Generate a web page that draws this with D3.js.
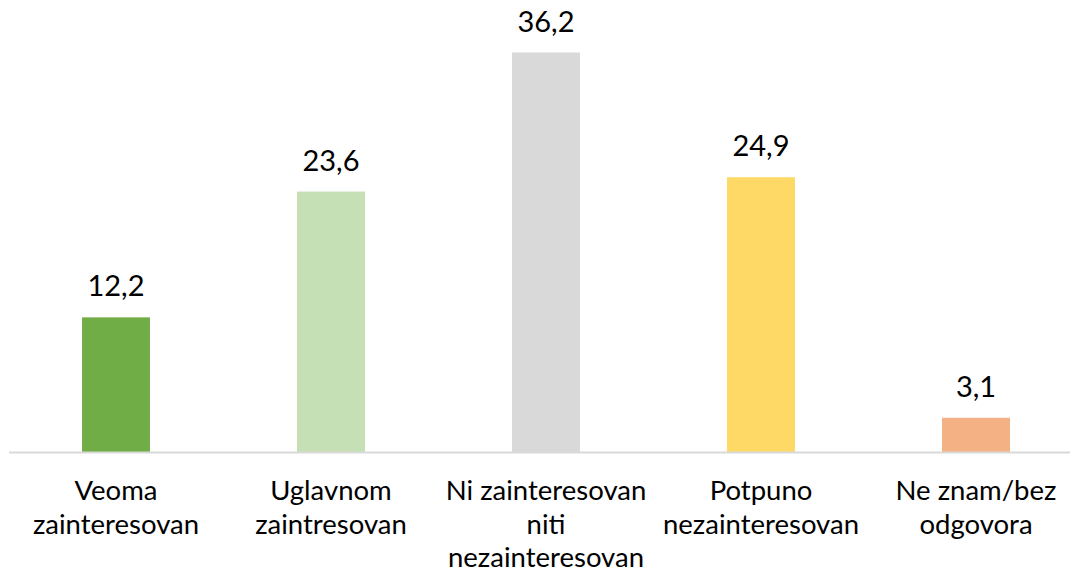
<!DOCTYPE html>
<html>
<head>
<meta charset="utf-8">
<script src="https://cdn.jsdelivr.net/npm/d3@7"></script>
<style>
  body { margin: 0; background: #fff; }
  svg { display: block; font-family: Lato, 'Open Sans', sans-serif; }
</style>
</head>
<body>
<div id="chart"></div>
<script>
// categories, one entry per bar; tick labels wrapped as in the original
const categories = ['Veoma zainteresovan', 'Uglavnom zaintresovan', 'Ni zainteresovan niti nezainteresovan', 'Potpuno nezainteresovan', 'Ne znam/bez odgovora'];
const tickLines = [
    ['Veoma', 'zainteresovan'],
    ['Uglavnom', 'zaintresovan'],
    ['Ni zainteresovan', 'niti', 'nezainteresovan'],
    ['Potpuno', 'nezainteresovan'],
    ['Ne znam/bez', 'odgovora']
];
const values = [12.2, 23.6, 36.2, 24.9, 3.1];
const barColors = ['#70AD47', '#C5E0B4', '#D9D9D9', '#FFD966', '#F4B183'];

const svgWidth = 1070;
const svgHeight = 572;
const baseY = 452;

const svg = d3.select('#chart')
    .append('svg')
    .attr('width', svgWidth)
    .attr('height', svgHeight);

const x = d3.scaleBand()
    .domain(categories)
    .range([8.5, 1083.5])
    .paddingInner(0.684)
    .paddingOuter(0.342);

const y = d3.scaleLinear()
    .domain([0, 36.2])
    .range([baseY, 52.5]);

svg.selectAll('.bar')
    .data(values)
    .enter().append('rect')
    .attr('class', 'bar')
    .attr('x', (d, i) => x(categories[i]))
    .attr('y', d => y(d))
    .attr('width', x.bandwidth())
    .attr('height', d => baseY - y(d))
    .attr('fill', (d, i) => barColors[i]);

// value labels, Excel style with decimal comma
svg.selectAll('.val')
    .data(values)
    .enter().append('text')
    .attr('class', 'val')
    .attr('x', (d, i) => x(categories[i]) + x.bandwidth() / 2)
    .attr('y', d => y(d) - 21)
    .attr('text-anchor', 'middle')
    .style('font-size', '29px')
    .style('fill', '#000')
    .text(d => d.toFixed(1).replace('.', ','));

const xAxis = svg.append('g')
    .attr('transform', 'translate(0,' + baseY + ')')
    .call(d3.axisBottom(x).tickSize(0).tickFormat(''));
xAxis.select('.domain').attr('stroke', '#D9D9D9').attr('stroke-width', 2);

const labels = svg.selectAll('.cat')
    .data(categories)
    .enter().append('text')
    .attr('class', 'cat')
    .attr('x', d => x(d) + x.bandwidth() / 2)
    .attr('y', 500)
    .attr('text-anchor', 'middle')
    .style('font-size', '27.5px')
    .style('fill', '#000');

labels.each(function(d, i) {
    const t = d3.select(this);
    tickLines[i].forEach((line, j) => {
        t.append('tspan')
            .attr('x', x(d) + x.bandwidth() / 2)
            .attr('y', 500 + j * 33.5)
            .text(line);
    });
});
</script>
</body>
</html>
